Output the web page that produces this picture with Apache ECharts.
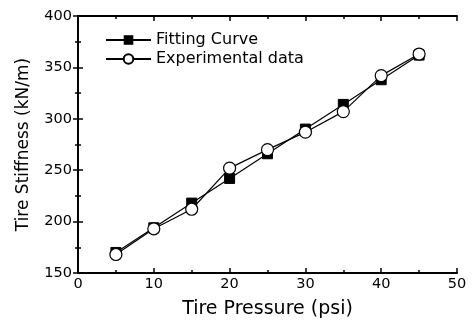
<!DOCTYPE html>
<html><head><meta charset="utf-8">
<script src="https://cdn.jsdelivr.net/npm/echarts@6/dist/echarts.min.js"></script>
<style>html,body{margin:0;padding:0;background:#fff}#c{width:473px;height:326px}</style>
</head><body><div id="c"></div>
<script>
const pressure = [5, 10, 15, 20, 25, 30, 35, 40, 45];
const fitting = [170, 194, 218, 242, 266, 290, 314, 338, 362];
const experimental = [168, 193, 212, 252, 270, 287, 307, 342, 363];
const xTicks = [0, 10, 20, 30, 40, 50];
const yTicks = [150, 200, 250, 300, 350, 400];

const font = '"DejaVu Sans", Arial, sans-serif';
const chart = echarts.init(document.getElementById('c'));
const axisCommon = {
  axisLine: {show: true, lineStyle: {color: '#000', width: 2}},
  axisTick: {show: true, inside: true, length: 5, lineStyle: {color: '#000', width: 1.5}},
  minorTick: {show: true, splitNumber: 2, length: 3, lineStyle: {color: '#000', width: 1.5}},
  splitLine: {show: false}
};
chart.setOption({
  animation: false,
  grid: {left: 78, right: 16, top: 16, bottom: 53},
  legend: {
    orient: 'vertical', left: 100, top: 27, itemWidth: 45, itemHeight: 12, itemGap: 3,
    textStyle: {fontFamily: font, fontSize: 16, color: '#000'},
    data: ['Fitting Curve', 'Experimental data']
  },
  xAxis: [
    Object.assign({type: 'value', min: xTicks[0], max: xTicks[xTicks.length - 1], interval: 10,
      name: 'Tire Pressure (psi)', nameLocation: 'middle', nameGap: 27,
      nameTextStyle: {fontFamily: font, fontSize: 19, color: '#000'},
      axisLabel: {fontFamily: font, fontSize: 14.5, color: '#000', margin: 4}}, axisCommon),
    Object.assign({type: 'value', position: 'top', min: xTicks[0], max: xTicks[xTicks.length - 1], interval: 10,
      axisLabel: {show: false}}, axisCommon)
  ],
  yAxis: [
    Object.assign({type: 'value', min: yTicks[0], max: yTicks[yTicks.length - 1], interval: 50,
      name: 'Tire Stiffness (kN/m)', nameLocation: 'middle', nameGap: 46,
      nameTextStyle: {fontFamily: font, fontSize: 17, color: '#000'},
      axisLabel: {fontFamily: font, fontSize: 14.5, color: '#000', margin: 6}}, axisCommon),
    Object.assign({type: 'value', position: 'right', min: yTicks[0], max: yTicks[yTicks.length - 1], interval: 50,
      axisLabel: {show: false}}, axisCommon)
  ],
  series: [
    {name: 'Fitting Curve', type: 'line', data: pressure.map((p, i) => [p, fitting[i]]),
     symbol: 'rect', symbolSize: 10, lineStyle: {color: '#000', width: 1.2},
     itemStyle: {color: '#000', borderColor: '#000'}, z: 2},
    {name: 'Experimental data', type: 'line', data: pressure.map((p, i) => [p, experimental[i]]),
     symbol: 'circle', symbolSize: 12, lineStyle: {color: '#000', width: 1.2},
     itemStyle: {color: '#fff', borderColor: '#000', borderWidth: 1.2}, z: 3}
  ]
});
</script></body></html>
